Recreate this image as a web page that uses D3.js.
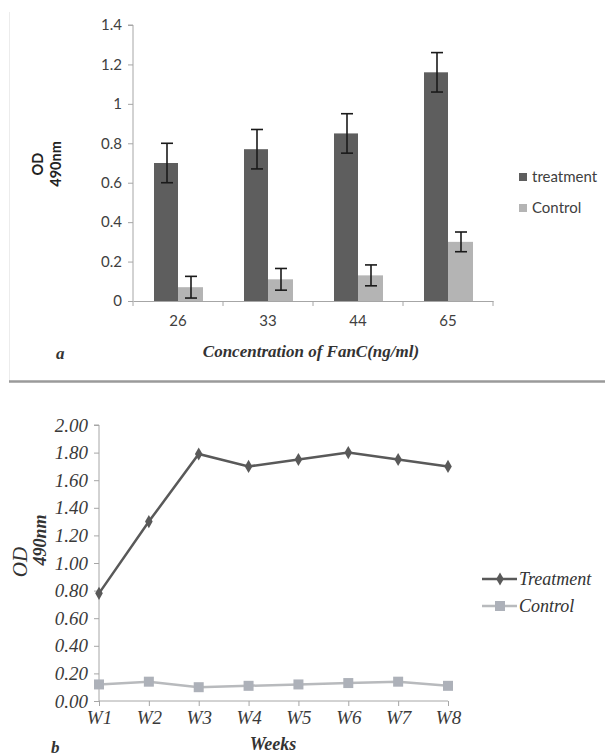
<!DOCTYPE html>
<html>
<head>
<meta charset="utf-8">
<script src="https://cdn.jsdelivr.net/npm/d3@7/dist/d3.min.js"></script>
<style>
  html, body { margin: 0; padding: 0; background: #fff; }
  svg { display: block; }
</style>
</head>
<body>
<svg id="chart" width="605" height="756"></svg>
<script>
// ---- Panel a data ----
const concentrations = ["26", "33", "44", "65"];
const treatmentOD = [0.70, 0.77, 0.85, 1.16];
const treatmentErr = [0.10, 0.10, 0.10, 0.10];
const controlOD = [0.07, 0.11, 0.13, 0.30];
const controlErr = [0.055, 0.055, 0.053, 0.05];
const yTicksA = [0, 0.2, 0.4, 0.6, 0.8, 1, 1.2, 1.4];
const seriesA = ["treatment", "Control"];

// ---- Panel b data ----
const weeks = ["W1", "W2", "W3", "W4", "W5", "W6", "W7", "W8"];
const treatmentWeekly = [0.78, 1.30, 1.79, 1.70, 1.75, 1.80, 1.75, 1.70];
const controlWeekly = [0.12, 0.14, 0.10, 0.11, 0.12, 0.13, 0.14, 0.11];
const yTicksB = [0, 0.2, 0.4, 0.6, 0.8, 1.0, 1.2, 1.4, 1.6, 1.8, 2.0];
const seriesB = ["Treatment", "Control"];

const svg = d3.select("#chart");
const DARK = "#5e5e5e", LIGHT = "#b4b4b4", AXIS = "#a6a6a6";
const sans = "Lato, 'Open Sans', sans-serif";
const serif = "'Liberation Serif', 'DejaVu Serif', serif";

// faint frame & separator
svg.append("line").attr("x1", 9.5).attr("x2", 9.5).attr("y1", 12).attr("y2", 381)
  .attr("stroke", "#ececec").attr("stroke-width", 1);
svg.append("line").attr("x1", 9).attr("x2", 605).attr("y1", 381.5).attr("y2", 381.5)
  .attr("stroke", "#9a9a9a").attr("stroke-width", 2.5);

// ================= Panel a =================
{
  const x0 = d3.scaleBand().domain(concentrations).range([133, 493]);
  const y = d3.scaleLinear().domain([0, 1.4]).range([301, 25]);
  const barW = 24;
  const g = svg.append("g");

  // y axis
  const yAx = g.append("g").attr("transform", "translate(133,0)")
    .call(d3.axisLeft(y).tickValues(yTicksA).tickSize(5).tickPadding(6).tickFormat(d3.format("~g")));
  yAx.select(".domain").attr("stroke", AXIS).attr("d", `M-5,${y(1.4)}H0V${y(0)}`);
  yAx.selectAll(".tick line").attr("stroke", AXIS);
  yAx.selectAll("text").attr("font-family", sans).attr("font-size", 15).attr("fill", "#404040");

  // x axis
  const xAx = g.append("g").attr("transform", "translate(0,301)")
    .call(d3.axisBottom(x0).tickSize(0).tickPadding(14));
  xAx.select(".domain").attr("stroke", AXIS);
  xAx.selectAll("text").attr("font-family", sans).attr("font-size", 15).attr("fill", "#404040");
  // boundary ticks
  const bounds = concentrations.map(c => x0(c)).concat([x0.range()[1]]);
  g.selectAll("line.bt").data(bounds).join("line")
    .attr("x1", d => d).attr("x2", d => d).attr("y1", 301).attr("y2", 306)
    .attr("stroke", AXIS);

  const data = concentrations.map((c, i) => ({ c, t: treatmentOD[i], te: treatmentErr[i], k: controlOD[i], ke: controlErr[i] }));
  const cx = c => x0(c) + x0.bandwidth() / 2;

  // bars
  g.selectAll("rect.t").data(data).join("rect")
    .attr("x", d => cx(d.c) - barW).attr("width", barW)
    .attr("y", d => y(d.t)).attr("height", d => y(0) - y(d.t)).attr("fill", DARK);
  g.selectAll("rect.k").data(data).join("rect")
    .attr("x", d => cx(d.c)).attr("width", barW + 1)
    .attr("y", d => y(d.k)).attr("height", d => y(0) - y(d.k)).attr("fill", LIGHT);

  // error bars
  const err = (xc, v, e) => {
    const eg = g.append("g").attr("stroke", "#1a1a1a").attr("stroke-width", 1.6);
    eg.append("line").attr("x1", xc).attr("x2", xc).attr("y1", y(v - e)).attr("y2", y(v + e));
    eg.append("line").attr("x1", xc - 6).attr("x2", xc + 6).attr("y1", y(v - e)).attr("y2", y(v - e));
    eg.append("line").attr("x1", xc - 6).attr("x2", xc + 6).attr("y1", y(v + e)).attr("y2", y(v + e));
  };
  data.forEach(d => {
    err(cx(d.c) - barW / 2 + 1, d.t, d.te);
    err(cx(d.c) + barW / 2 + 1, d.k, d.ke);
  });

  // y title
  const yt = g.append("text").attr("transform", "translate(43,164) rotate(-90)")
    .attr("text-anchor", "middle").attr("font-family", sans).attr("font-weight", "bold").attr("font-size", 14.5).attr("fill", "#222");
  yt.append("tspan").attr("x", 0).attr("y", 0).text("OD");
  yt.append("tspan").attr("x", 0).attr("y", 18).text("490nm");

  // x title
  g.append("text").attr("x", 311).attr("y", 357).attr("text-anchor", "middle")
    .attr("font-family", serif).attr("font-style", "italic").attr("font-weight", "bold")
    .attr("font-size", 17).attr("fill", "#333").text("Concentration of FanC(ng/ml)");
  g.append("text").attr("x", 56).attr("y", 359)
    .attr("font-family", serif).attr("font-style", "italic").attr("font-weight", "bold")
    .attr("font-size", 17).attr("fill", "#333").text("a");

  // legend
  const lg = g.append("g");
  seriesA.forEach((s, i) => {
    const yy = 177 + i * 31;
    lg.append("rect").attr("x", 519).attr("y", yy - 4).attr("width", 8).attr("height", 8)
      .attr("fill", i === 0 ? DARK : LIGHT);
    lg.append("text").attr("x", 532).attr("y", yy + 5).attr("font-family", sans).attr("font-size", 15)
      .attr("fill", "#404040").text(s);
  });
}

// ================= Panel b =================
{
  const x = d3.scalePoint().domain(weeks).range([99, 448]);
  const y = d3.scaleLinear().domain([0, 2]).range([701, 425]);
  const g = svg.append("g");
  const TCOL = "#595959", CCOL = "#b8babd", CMARK = "#adb1b9";

  const yAx = g.append("g").attr("transform", "translate(99,0)")
    .call(d3.axisLeft(y).tickValues(yTicksB).tickSize(5).tickPadding(6).tickFormat(d3.format(".2f")));
  yAx.select(".domain").attr("stroke", AXIS).attr("d", `M-5,${y(2)}H0V${y(0)}`);
  yAx.selectAll(".tick line").attr("stroke", AXIS);
  yAx.selectAll("text").attr("font-family", serif).attr("font-style", "italic").attr("font-size", 19).attr("fill", "#3a3a3a");

  const xAx = g.append("g").attr("transform", "translate(0,701)")
    .call(d3.axisBottom(x).tickSize(5).tickPadding(5));
  xAx.select(".domain").attr("stroke", AXIS).attr("d", `M${x.range()[0]},0H${x.range()[1]}`);
  xAx.selectAll(".tick line").attr("stroke", AXIS);
  xAx.selectAll("text").attr("font-family", serif).attr("font-style", "italic").attr("font-size", 19).attr("fill", "#3a3a3a");

  const line = d3.line().x((d, i) => x(weeks[i])).y(d => y(d));

  g.append("path").datum(controlWeekly).attr("d", line).attr("fill", "none")
    .attr("stroke", CCOL).attr("stroke-width", 2.5);
  g.selectAll("rect.cm").data(controlWeekly).join("rect")
    .attr("x", (d, i) => x(weeks[i]) - 5).attr("y", d => y(d) - 5)
    .attr("width", 10).attr("height", 10).attr("fill", CMARK);

  g.append("path").datum(treatmentWeekly).attr("d", line).attr("fill", "none")
    .attr("stroke", TCOL).attr("stroke-width", 2.5);
  const diamond = d3.symbol().type(d3.symbolDiamond).size(50);
  g.selectAll("path.tm").data(treatmentWeekly).join("path")
    .attr("d", diamond).attr("transform", (d, i) => `translate(${x(weeks[i])},${y(d)})`)
    .attr("fill", TCOL);

  // y title
  g.append("text").attr("transform", "translate(27,562) rotate(-90)")
    .attr("text-anchor", "middle").attr("font-family", serif).attr("font-style", "italic")
    .attr("font-size", 21).attr("fill", "#333").text("OD");
  g.append("text").attr("transform", "translate(46,540) rotate(-90)")
    .attr("text-anchor", "middle").attr("font-family", serif).attr("font-style", "italic").attr("font-weight", "bold")
    .attr("font-size", 18).attr("fill", "#333").text("490nm");

  g.append("text").attr("x", 273).attr("y", 750).attr("text-anchor", "middle")
    .attr("font-family", serif).attr("font-style", "italic").attr("font-weight", "bold")
    .attr("font-size", 18).attr("fill", "#333").text("Weeks");
  g.append("text").attr("x", 51).attr("y", 753)
    .attr("font-family", serif).attr("font-style", "italic").attr("font-weight", "bold")
    .attr("font-size", 17).attr("fill", "#333").text("b");

  // legend
  seriesB.forEach((s, i) => {
    const yy = 579 + i * 27;
    const col = i === 0 ? TCOL : CCOL;
    g.append("line").attr("x1", 482).attr("x2", 517).attr("y1", yy).attr("y2", yy)
      .attr("stroke", col).attr("stroke-width", 2.5);
    if (i === 0) {
      g.append("path").attr("d", diamond).attr("transform", `translate(500,${yy})`).attr("fill", TCOL);
    } else {
      g.append("rect").attr("x", 495).attr("y", yy - 5).attr("width", 10).attr("height", 10).attr("fill", CMARK);
    }
    g.append("text").attr("x", 519).attr("y", yy + 6).attr("font-family", serif).attr("font-style", "italic")
      .attr("font-size", 18).attr("fill", "#333").text(s);
  });
}
</script>
</body>
</html>
